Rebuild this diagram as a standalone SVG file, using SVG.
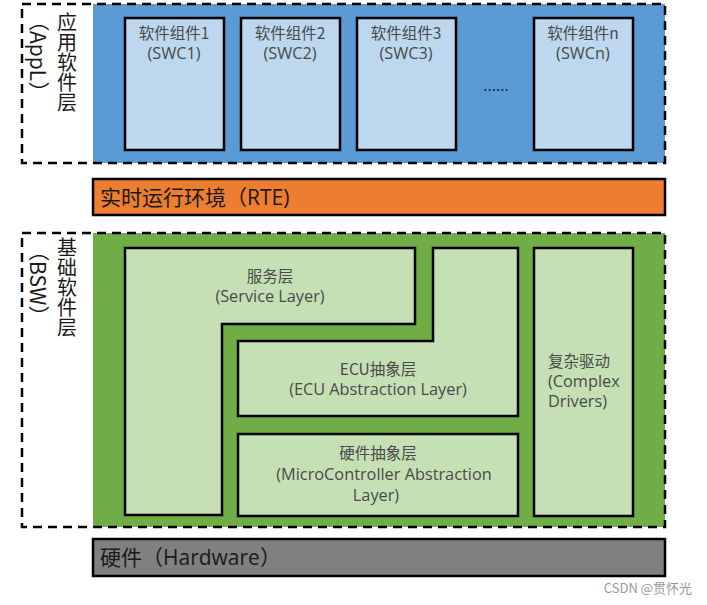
<svg xmlns="http://www.w3.org/2000/svg" width="707" height="605" viewBox="0 0 707 605">
<style>
.t{font-family:"Open Sans","Noto Sans CJK SC",sans-serif;fill:#4a4a4a;font-size:16.3px;text-anchor:middle}
.c{font-family:"Noto Sans CJK SC",sans-serif;fill:#4a4a4a;font-size:15.5px;text-anchor:middle}
.bar{font-family:"Open Sans","Noto Sans CJK SC",sans-serif;fill:#1a1a1a;font-size:21px}
.v{font-family:"Noto Sans CJK SC",sans-serif;fill:#1a1a1a;font-size:20px;writing-mode:vertical-rl}
.box{stroke:#000;stroke-width:2.5}
.dash{fill:none;stroke:#000;stroke-width:2.5;stroke-dasharray:9 6}
</style>
<rect width="707" height="605" fill="#fff"/>
<g id="appl">
<rect x="93" y="4" width="572" height="159" fill="#5B9BD5"/>
<rect x="22" y="4" width="643" height="159" class="dash"/>
<text class="v" x="67" y="12">应用软件层</text>
<text class="v" x="39" y="10" style="font-size:21px">（AppL）</text>
</g>
<g id="swc1"><rect x="125" y="18" width="99" height="132" fill="#BDD7EE" class="box"/><text class="c" x="174" y="39">软件组件1</text><text class="t" x="174" y="59">(SWC1)</text></g>
<g id="swc2"><rect x="241" y="18" width="99" height="132" fill="#BDD7EE" class="box"/><text class="c" x="290" y="39">软件组件2</text><text class="t" x="290" y="59">(SWC2)</text></g>
<g id="swc3"><rect x="357" y="18" width="99" height="132" fill="#BDD7EE" class="box"/><text class="c" x="406" y="39">软件组件3</text><text class="t" x="406" y="59">(SWC3)</text></g>
<g id="dots"><text class="t" x="496" y="91" style="fill:#1a1a1a">......</text></g>
<g id="swcn"><rect x="534" y="18" width="99" height="132" fill="#BDD7EE" class="box"/><text class="c" x="583" y="39">软件组件n</text><text class="t" x="583" y="59">(SWCn)</text></g>
<g id="rte"><rect x="93" y="179" width="572" height="36" fill="#ED7D31" class="box"/><text class="bar" x="100" y="205">实时运行环境（RTE)</text></g>
<g id="bsw">
<rect x="93" y="233" width="572" height="294" fill="#70AD47"/>
<rect x="22" y="233" width="643" height="294" class="dash"/>
<text class="v" x="67" y="237">基础软件层</text>
<text class="v" x="39" y="240" style="font-size:21px">（BSW）</text>
</g>
<g id="service"><path d="M125 248H415V324H222V515H125Z" fill="#C5E0B4" class="box"/><text class="c" x="270" y="282">服务层</text><text class="t" x="270" y="302">(Service Layer)</text></g>
<g id="ecu"><path d="M433 248H518V416H238V341H433Z" fill="#C5E0B4" class="box"/><text class="c" x="378" y="375">ECU抽象层</text><text class="t" x="378" y="395">(ECU Abstraction Layer)</text></g>
<g id="mcal"><rect x="238" y="434" width="280" height="82" fill="#C5E0B4" class="box"/><text class="c" x="378" y="459">硬件抽象层</text><text class="t" x="384" y="480">(MicroController Abstraction</text><text class="t" x="376" y="501">Layer)</text></g>
<g id="cdd"><rect x="534" y="248" width="99" height="268" fill="#C5E0B4" class="box"/><text class="c" x="548" y="367" style="text-anchor:start">复杂驱动</text><text class="t" x="548" y="387" style="text-anchor:start">(Complex</text><text class="t" x="548" y="407" style="text-anchor:start">Drivers)</text></g>
<g id="hw"><rect x="93" y="539" width="572" height="37" fill="#808080" class="box"/><text class="bar" x="100" y="565">硬件（Hardware）</text></g>
<text x="692" y="593" style="font-family:'Noto Sans CJK SC',sans-serif;font-size:13px;fill:#999;text-anchor:end">CSDN @贯怀光</text>
<g id="connectors"/>
</svg>
